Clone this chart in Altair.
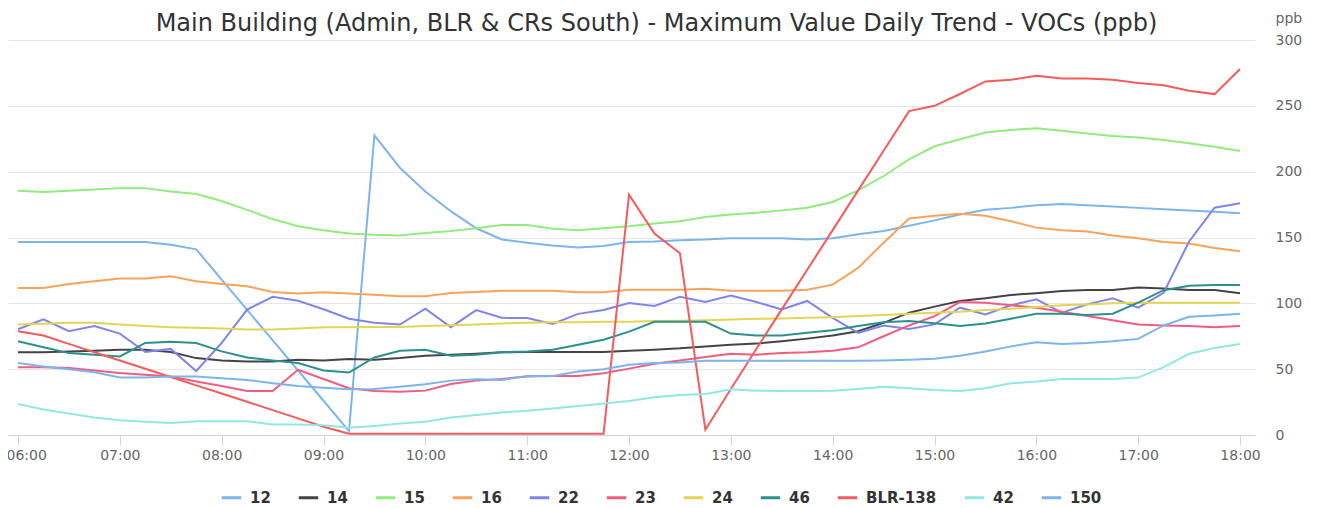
import altair as alt
import pandas as pd

# 15-minute timestamps from 06:00 to 18:00
times = [f"{h:02d}:{m:02d}" for h in range(6, 19) for m in (0, 15, 30, 45)][:49]

series_names = ["12", "14", "15", "16", "22", "23", "24", "46", "BLR-138", "42", "150"]
series_colors = ["#7cb5ec", "#434348", "#90ed7d", "#f7a35c", "#8085e9", "#f15c80",
                 "#e4d354", "#2b908f", "#f45b5b", "#91e8e1", "#7cb5ec"]

s12 = [146.5, 146.5, 146.5, 146.5, 146.5, 146.5, 144.5, 141, 118, 95, 72, 49, 26, 3,
       227.5, 203, 185, 170, 157, 148.5, 146, 144, 142.5, 143.5, 146.5, 147, 148, 148.5,
       149.5, 149.5, 149.5, 148.5, 149.5, 152.5, 155, 159, 163, 167.5, 171, 172.5, 174.5,
       175.5, 174.5, 173.5, 172.5, 171.5, 170.5, 169.5, 168.5]
s14 = [62.8, 62.8, 63.5, 64, 64.8, 64.8, 63, 58.4, 56.6, 55.9, 55.9, 57.1, 56.6, 57.7,
       57.1, 58.4, 60.2, 61, 61.7, 62.8, 63, 63, 63, 63, 64, 64.8, 65.8, 67.3, 68.6, 69.4,
       71.2, 73.2, 75.5, 78.8, 85.2, 92.9, 97.5, 101.8, 103.8, 106.4, 107.7, 109.4, 110.2,
       110.2, 112, 111.2, 110.2, 110.2, 107.7]
s15 = [185.5, 184.5, 185.5, 186.5, 187.5, 187.5, 185, 183, 177.7, 171, 164, 158.6, 155.5,
       153, 152, 151.5, 153.5, 155, 157, 159.4, 159.4, 156.6, 155.6, 157, 158.6, 160.7,
       162.4, 165.5, 167.5, 168.8, 170.6, 172.6, 177, 185.8, 196.7, 209.4, 219.3, 224.6,
       229.7, 231.7, 233, 231, 229, 227, 226, 224, 221.6, 219, 215.7]
s16 = [111.7, 111.7, 114.7, 116.8, 118.8, 118.8, 120.6, 116.8, 114.7, 113, 108.6, 107.4,
       108.5, 107.4, 106.6, 105.3, 105.3, 107.9, 108.6, 109.6, 109.6, 109.6, 108.4, 108.4,
       110.4, 110.4, 110.4, 111, 109.6, 109.6, 109.6, 110.4, 114.2, 126.9, 146, 164.5,
       166.5, 168, 166.5, 162.4, 157.5, 155.5, 154.5, 151.5, 149.5, 146.5, 145.5, 142, 139.5]
s22 = [80.3, 87.9, 78.8, 82.8, 77, 63, 65.4, 48.6, 70, 95.3, 105, 102, 95.5, 88.3, 85.2,
       83.9, 95.9, 81.9, 94.9, 89, 88.8, 84.4, 92, 94.9, 100.2, 98, 105, 101, 106, 101,
       95.4, 101.8, 89, 77.6, 83.2, 80.6, 84, 96.7, 91.6, 98.5, 103, 92.9, 99.2, 103.8,
       96.7, 108, 147, 172.6, 176]
s23 = [51.5, 51.5, 50.8, 49, 47, 45.7, 44.4, 40.6, 37.2, 33.4, 33.4, 49.5, 42.5, 35.5,
       33.4, 32.9, 33.7, 38.8, 41.3, 42.6, 44.4, 44.9, 44.9, 46.9, 50.4, 54.1, 56.6, 59.2,
       61.7, 61, 62.2, 62.8, 64, 66.6, 75, 83.2, 90.3, 101, 100.5, 98.5, 96.7, 93.6, 90.3,
       87.2, 83.9, 83.2, 82.7, 81.9, 82.7]
s24 = [83.9, 84.4, 85.2, 85.2, 83.9, 82.7, 81.9, 81.4, 80.9, 80.1, 80.1, 80.9, 81.9, 81.9,
       82.1, 82.1, 82.7, 83.4, 83.9, 84.7, 85.2, 85.7, 85.7, 86, 86, 86.5, 86.7, 87.2, 87.8,
       88.3, 88.5, 89, 89.5, 90.3, 91.1, 92.1, 92.9, 93.6, 94.9, 95.9, 97.2, 98.5, 99.2,
       100, 100.5, 100.5, 100.5, 100.5, 100.5]
s46 = [71.2, 66.6, 62.2, 61, 59.7, 69.9, 70.9, 69.9, 63.5, 58.9, 56.6, 54.6, 49, 47.4,
       58.9, 64, 64.8, 60.2, 61, 62.8, 63.5, 64.8, 68.6, 72.4, 78.5, 86, 86, 86, 77, 75.5,
       75.5, 77.6, 79.6, 82.7, 85.7, 86.5, 84.8, 82.7, 84.7, 88.3, 92.1, 92.1, 91.1, 92.1,
       100.5, 110, 113.3, 114, 114]
sBLR = [78.8, 75.5, 69.2, 62.9, 56.6, 50.3, 44, 37.7, 31.5, 25.2, 18.9, 12.6, 6.3, 1, 1,
        1, 1, 1, 1, 1, 1, 1, 1, 1, 182.5, 153, 138, 4, 35, 65.3, 95.4, 125.5, 155.6, 185.8,
        215.9, 246, 250, 259, 268.5, 269.8, 272.8, 270.8, 270.8, 269.8, 267.3, 265.7, 261.4,
        258.9, 278]
s42 = [23.5, 19.4, 16.3, 13.3, 11.2, 10, 9.2, 10.5, 10.5, 10.5, 7.9, 7.9, 7.4, 5.5, 6.9,
       8.7, 10, 13.3, 15.1, 17.1, 18.4, 20.2, 22, 24, 25.8, 28.6, 30.4, 31.1, 34.7, 33.7,
       33.4, 33.4, 33.7, 35, 36.7, 35.5, 34.2, 33.4, 35.5, 39.3, 40.6, 42.6, 42.6, 42.6,
       43.6, 51.5, 61.7, 66, 69.1]
s150 = [54.6, 52, 50, 47.7, 43.6, 43.6, 44.4, 44.4, 43.1, 41.8, 39.3, 37.2, 35.8, 34.7, 35,
        36.7, 38.5, 41.3, 42.3, 41.8, 44.9, 44.9, 48.2, 50, 53.3, 54.6, 55.1, 56.4, 56.4,
        56.4, 56.4, 56.4, 56.4, 56.4, 56.6, 57.1, 58, 60.2, 63.5, 67.3, 70.4, 69.1, 69.9,
        71.2, 73, 83.2, 89.8, 90.8, 92.1]

hour_ticks = list(range(6, 19))
y_ticks = [0, 50, 100, 150, 200, 250, 300]

all_series = [s12, s14, s15, s16, s22, s23, s24, s46, sBLR, s42, s150]

rows = []
for name, vals in zip(series_names, all_series):
    for t, v in zip(times, vals):
        hh, mm = t.split(":")
        rows.append({"time": t, "h": int(hh) + int(mm) / 60.0, "series": name, "value": v})
df = pd.DataFrame(rows)

FONT = "DejaVu Sans"

chart = alt.Chart(df).mark_line(strokeWidth=2).encode(
    x=alt.X("h:Q",
            scale=alt.Scale(domain=[5.9018, 18.147], nice=False, zero=False),
            axis=alt.Axis(values=hour_ticks,
                          labelExpr="(datum.value < 10 ? '0' : '') + datum.value + ':00'",
                          grid=False, domainColor="#ccd6eb", tickColor="#ccd6eb",
                          tickSize=10, labelColor="#666666", labelFontSize=14,
                          labelPadding=3, title=None, labelFlush=12,
                          labelFlushOffset=12)),
    y=alt.Y("value:Q",
            scale=alt.Scale(domain=[0, 300], nice=False),
            axis=alt.Axis(orient="right", values=y_ticks, grid=True, gridColor="#e6e6e6",
                          domain=False, ticks=False, labelPadding=20,
                          labelColor="#666666", labelFontSize=14, labelAlign="left",
                          title="ppb", titleAngle=0, titleX=20, titleY=-22,
                          titleAlign="left", titleBaseline="middle",
                          titleFontWeight="normal", titleColor="#666666",
                          titleFontSize=14)),
    color=alt.Color("series:N",
                    scale=alt.Scale(domain=series_names, range=series_colors),
                    legend=alt.Legend(orient="none", legendX=212, legendY=446,
                                      direction="horizontal", title=None,
                                      symbolType="stroke", symbolSize=380,
                                      symbolStrokeWidth=3, labelFontSize=15,
                                      labelFontWeight="bold", labelColor="#333333",
                                      columnPadding=21, labelOffset=7)),
    detail="series:N",
).properties(
    width=1247,
    height=395,
    autosize=alt.AutoSizeParams(type="none"),
    padding={"left": 0, "top": 32, "right": 59, "bottom": 75},
    title=alt.TitleParams(
        "Main Building (Admin, BLR & CRs South) - Maximum Value Daily Trend - VOCs (ppb)",
        fontSize=24, color="#333333", fontWeight="normal", anchor="middle",
        font=FONT, offset=0, dx=25, dy=25),
).configure(font=FONT).configure_view(stroke=None)

chart.save("out.html", embed_options={"renderer": "svg", "actions": False})
